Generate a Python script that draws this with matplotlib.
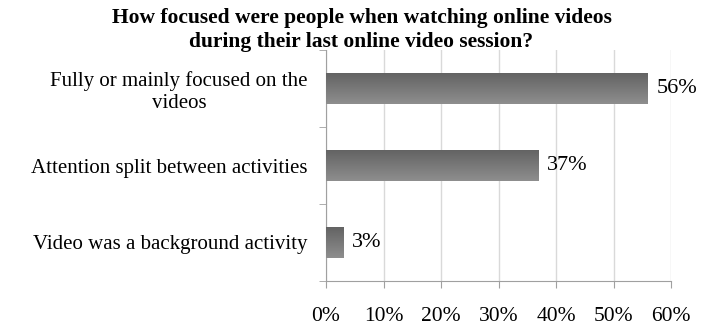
import matplotlib
matplotlib.use("Agg")
import matplotlib.pyplot as plt
import numpy as np

categories = ["Fully or mainly focused on the\nvideos",
              "Attention split between activities",
              "Video was a background activity"]
values = [56, 37, 3]
xticks = [0, 10, 20, 30, 40, 50, 60]
title = "How focused were people when watching online videos\nduring their last online video session?"

plt.rcParams['font.family'] = ['Liberation Serif', 'DejaVu Serif']

fig = plt.figure(figsize=(7.02, 3.26), dpi=100)
ax = fig.add_axes([326/702, 1-281/326, (671-326)/702, (281-50)/326])

ypos = np.arange(len(categories))[::-1]
bars = ax.barh(ypos, values, height=0.41, color='#7a7a7a', zorder=3)
grad = np.linspace(0, 1, 100).reshape(-1, 1)
cmap = matplotlib.colors.LinearSegmentedColormap.from_list('g', ['#8e8e8e', '#626262'])
for b, v in zip(bars, values):
    x0, y0 = b.get_x(), b.get_y()
    w, h = b.get_width(), b.get_height()
    im = ax.imshow(grad, cmap=cmap, extent=[x0, x0 + w, y0 + h, y0],
                   aspect='auto', zorder=4, origin='upper')
    im.set_clip_path(b)
    ax.text(x0 + w + 1.5, y0 + h/2, f"{v}%", va='center', ha='left', fontsize=16)

ax.set_xlim(0, 60)
ax.set_ylim(-0.5, 2.5)
ax.set_xticks(xticks)
ax.set_xticklabels([f"{t}%" for t in xticks], fontsize=15.5)
ax.set_yticks(ypos)
ax.set_yticklabels(categories, fontsize=15, multialignment='center', linespacing=1.15)
ax.set_yticks([-0.5, 0.5, 1.5, 2.5], minor=True)
ax.tick_params(axis='y', which='major', length=0, pad=13)
ax.tick_params(axis='y', which='minor', length=5, color='#a0a0a0', direction='out')
ax.tick_params(axis='x', length=5, color='#a0a0a0', pad=14)
ax.grid(axis='x', color='#d9d9d9', linewidth=1, zorder=0)
for s in ['top', 'right']:
    ax.spines[s].set_visible(False)
for s in ['left', 'bottom']:
    ax.spines[s].set_color('#a0a0a0')

fig.text(0.515, 0.975, title, ha='center', va='top', fontsize=15.5, fontweight='bold', linespacing=1.25)

fig.savefig("out.png", dpi=100)
